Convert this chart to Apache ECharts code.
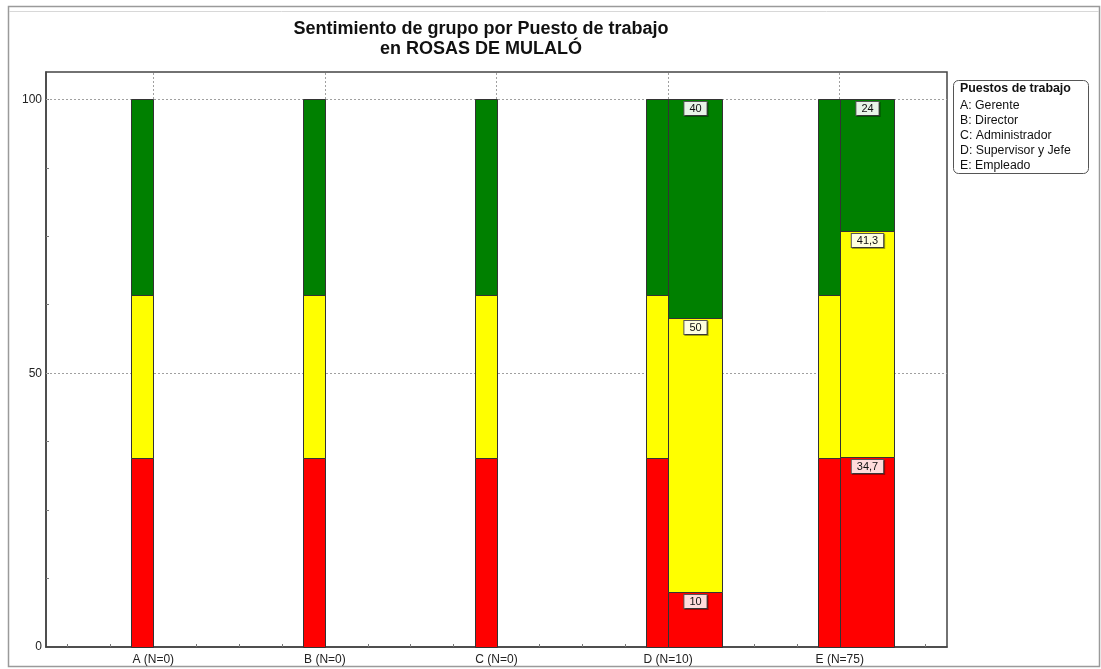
<!DOCTYPE html>
<html>
<head>
<meta charset="utf-8">
<script src="https://cdn.jsdelivr.net/npm/echarts@6/dist/echarts.min.js"></script>
<style>
html, body { margin: 0; padding: 0; background: #fff; }
#main { width: 1101px; height: 669px; }
</style>
</head>
<body>
<div id="main"></div>
<script>
var categories = ['A (N=0)', 'B (N=0)', 'C (N=0)', 'D (N=10)', 'E (N=75)'];
var titleLines = ['Sentimiento de grupo por Puesto de trabajo', 'en ROSAS DE MULALÓ'];
var legendTitle = 'Puestos de trabajo';
var legendItems = ['A: Gerente', 'B: Director', 'C: Administrador', 'D: Supervisor y Jefe', 'E: Empleado'];

// barra de referencia (igual en todos los puestos): rojo, amarillo, verde
var refShares = [34.6, 29.6, 35.8];
// valores del grupo (null = sin datos)
var grpRed = [null, null, null, 10, 34.7];
var grpYellow = [null, null, null, 50, 41.3];
var grpGreen = [null, null, null, 40, 24];

var yLabels = [0, 50, 100];
var yTicks = [12.5, 25, 37.5, 50, 62.5, 75, 87.5, 100];
var xTicks = [0.5, 0.75, 1, 1.25, 1.5, 1.75, 2, 2.25, 2.5, 2.75, 3, 3.25, 3.5, 3.75, 4, 4.25, 4.5, 4.75, 5, 5.25, 5.5];

var colors = ['#ff0000', '#ffff00', '#008000'];
var labelBg = ['#ffdcdc', '#ffffe0', '#e8f4e8'];

var chart = echarts.init(document.getElementById('main'));

// datos: [x, inicio, fin, valor, color]
var refData = [];
var grpData = [];
for (var i = 0; i < categories.length; i++) {
    var base = 0;
    for (var k = 0; k < refShares.length; k++) {
        refData.push([i + 1, base, base + refShares[k], refShares[k], k]);
        base += refShares[k];
    }
    if (grpRed[i] != null) {
        var vals = [grpRed[i], grpYellow[i], grpGreen[i]];
        base = 0;
        for (var k = 0; k < vals.length; k++) {
            grpData.push([i + 1, base, base + vals[k], vals[k], k]);
            base += vals[k];
        }
    }
}

function makeRender(offset, width, withLabel) {
    return function (params, api) {
        var p0 = api.coord([api.value(0), api.value(1)]);
        var p1 = api.coord([api.value(0), api.value(2)]);
        var c = api.value(4);
        var el = {
            type: 'rect',
            shape: { x: Math.round(p0[0]) + offset + 0.5, y: Math.round(p1[1]) + 0.5, width: width, height: Math.round(p0[1]) - Math.round(p1[1]) },
            style: { fill: colors[c], stroke: '#333', lineWidth: 1 }
        };
        if (withLabel) {
            el.textContent = {
                style: {
                    text: String(api.value(3)).replace('.', ','),
                    fill: '#111',
                    fontSize: 11,
                    fontFamily: 'Liberation Sans',
                    backgroundColor: labelBg[c],
                    borderColor: '#555',
                    borderWidth: 1,
                    padding: [1, 5, 1, 5],
                    shadowColor: 'rgba(0,0,0,0.35)',
                    shadowOffsetX: 1,
                    shadowOffsetY: 1
                }
            };
            el.textConfig = { position: 'insideTop', distance: 3 };
        }
        return el;
    };
}

var gridLines = [];
for (var i = 0; i < categories.length; i++) gridLines.push({ xAxis: i + 1 });
gridLines.push({ yAxis: 50 });
gridLines.push({ yAxis: 100 });

var legendGraphics = [{
    type: 'rect',
    shape: { x: 953.5, y: 80.5, width: 135, height: 93, r: 5 },
    style: { fill: '#fff', stroke: '#555', lineWidth: 1 }
}, {
    type: 'text', x: 960, y: 83,
    style: { text: legendTitle, font: 'bold 12.4px "Liberation Sans"', fill: '#111' }
}];
for (var i = 0; i < legendItems.length; i++) {
    legendGraphics.push({
        type: 'text', x: 960, y: 100 + i * 15,
        style: { text: legendItems[i], font: '12.3px "Liberation Sans"', fill: '#111' }
    });
}

chart.setOption({
    backgroundColor: '#fff',
    animation: false,
    textStyle: { fontFamily: 'Liberation Sans' },
    grid: {
        left: 46, top: 72, right: 154, bottom: 22,
        show: true, borderColor: '#444', borderWidth: 1.5
    },
    graphic: [{
        type: 'rect', z: -1,
        shape: { x: 8.5, y: 6.5, width: 1091, height: 660 },
        style: { fill: 'none', stroke: '#9a9a9a', lineWidth: 1.5 }
    }, {
        type: 'line', z: -1,
        shape: { x1: 9, y1: 11.5, x2: 1099, y2: 11.5 },
        style: { stroke: '#d8d8d8', lineWidth: 1 }
    }, {
        type: 'text', x: 481, y: 19,
        style: {
            text: titleLines.join('\n'),
            font: 'bold 18px "Liberation Sans"',
            lineHeight: 20, align: 'center', fill: '#111'
        }
    }].concat(legendGraphics),
    xAxis: {
        type: 'value', min: 0.375, max: 5.625,
        axisLine: { show: true, lineStyle: { color: '#444', width: 1.5 } },
        axisTick: { show: true, inside: true, length: 3, customValues: xTicks, lineStyle: { color: '#777' } },
        axisLabel: {
            customValues: [1, 2, 3, 4, 5], margin: 7, fontSize: 12, color: '#222',
            formatter: function (v) { return categories[Math.round(v) - 1]; }
        },
        splitLine: { show: false }
    },
    yAxis: {
        type: 'value', min: 0, max: 105,
        axisLine: { show: true, lineStyle: { color: '#444', width: 1.5 } },
        axisTick: { show: true, inside: true, length: 3, customValues: yTicks, lineStyle: { color: '#777' } },
        axisLabel: { customValues: yLabels, margin: 4, fontSize: 12, color: '#222' },
        splitLine: { show: false }
    },
    series: [{
        type: 'custom',
        name: 'Referencia',
        z: 3,
        renderItem: makeRender(-22, 22, false),
        encode: { x: 0, y: [1, 2] },
        data: refData,
        markLine: {
            silent: true, z: 1, symbol: 'none',
            label: { show: false },
            lineStyle: { type: [2, 2], color: '#a0a0a0', width: 1 },
            data: gridLines
        }
    }, {
        type: 'custom',
        name: 'Grupo',
        z: 4,
        renderItem: makeRender(0, 54, true),
        encode: { x: 0, y: [1, 2] },
        data: grpData
    }]
});
</script>
</body>
</html>
